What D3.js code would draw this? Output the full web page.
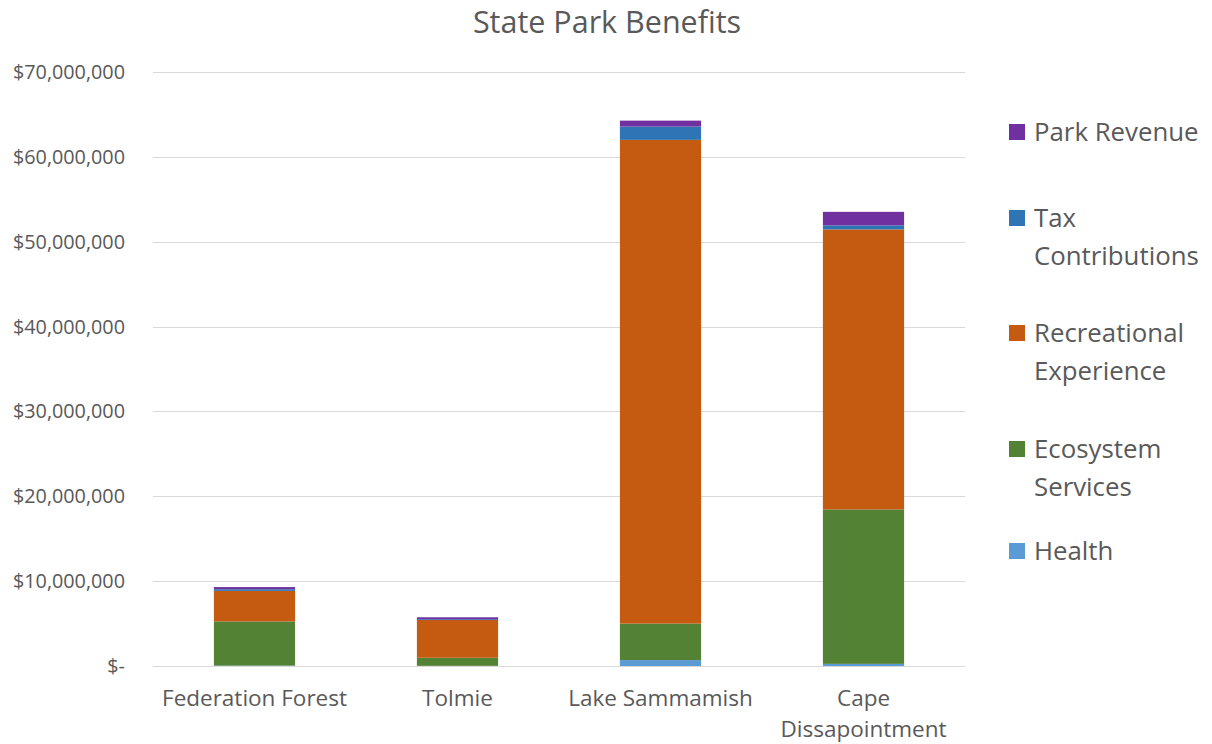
<!DOCTYPE html>
<html lang="en">
    <head>
        <meta charset="utf-8">
        <title>State Park Benefits</title>
        <script src="https://cdn.jsdelivr.net/npm/d3@7"></script>
        <style>
            body { margin: 0; background: #fff; }
            text { font-family: "Open Sans", "Noto Sans", sans-serif; fill: #595959; }
        </style>
    </head>
    <body>
        <script>
            var w = 1212;
            var h = 744;
            var margin = {top: 72, right: 247, bottom: 78, left: 153};

            // data (dollars, millions)
            var parks = ["Federation Forest", "Tolmie", "Lake Sammamish", "Cape Dissapointment"];
            var series = ["Health", "Ecosystem Services", "Recreational Experience", "Tax Contributions", "Park Revenue"];
            var health       = [0.05, 0.02, 0.7, 0.25];
            var ecosystem    = [5.2, 0.95, 4.3, 18.2];
            var recreational = [3.6, 4.45, 57.0, 33.0];
            var tax          = [0.2, 0.1, 1.57, 0.47];
            var revenue      = [0.25, 0.22, 0.7, 1.6];
            var yTicks = [0, 10, 20, 30, 40, 50, 60, 70];
            var colors = ["#5B9BD5", "#548235", "#C55A11", "#2E75B6", "#7030A0"];
            var legendLines = [["Park Revenue"], ["Tax", "Contributions"], ["Recreational", "Experience"], ["Ecosystem", "Services"], ["Health"]];

            var table = parks.map(function(p, i) {
                return {park: p, "Health": health[i], "Ecosystem Services": ecosystem[i],
                        "Recreational Experience": recreational[i], "Tax Contributions": tax[i],
                        "Park Revenue": revenue[i]};
            });
            var stacked = d3.stack().keys(series)(table);

            var xScale = d3.scaleBand()
                           .domain(parks)
                           .range([margin.left, w - margin.right])
                           .paddingInner(0.6)
                           .paddingOuter(0.3);

            var yScale = d3.scaleLinear()
                           .domain([0, 70])
                           .range([h - margin.bottom, margin.top]);

            var color = d3.scaleOrdinal().domain(series).range(colors);

            var svg = d3.select("body")
                        .append("svg")
                        .attr("width", w)
                        .attr("height", h);

            // gridlines
            svg.append("g")
               .selectAll("line")
               .data(yTicks)
               .enter()
               .append("line")
               .attr("x1", margin.left)
               .attr("x2", w - margin.right)
               .attr("y1", function(d) { return Math.round(yScale(d)) + 0.5; })
               .attr("y2", function(d) { return Math.round(yScale(d)) + 0.5; })
               .attr("stroke", "#d9d9d9")
               .attr("stroke-width", 1);

            // y labels
            svg.append("g")
               .selectAll("text")
               .data(yTicks)
               .enter()
               .append("text")
               .attr("x", 125)
               .attr("y", function(d) { return yScale(d); })
               .attr("dy", "0.35em")
               .attr("text-anchor", "end")
               .attr("font-size", "19.8px")
               .text(function(d) { return d === 0 ? "$-" : "$" + d3.format(",")(d * 1000000); });

            // bars
            svg.append("g")
               .selectAll("g")
               .data(stacked)
               .enter()
               .append("g")
               .attr("fill", function(d) { return color(d.key); })
               .selectAll("rect")
               .data(function(d) { return d; })
               .enter()
               .append("rect")
               .attr("x", function(d) { return xScale(d.data.park); })
               .attr("y", function(d) { return yScale(d[1]); })
               .attr("width", xScale.bandwidth())
               .attr("height", function(d) { return yScale(d[0]) - yScale(d[1]); });

            // category labels
            var catLines = {"Cape Dissapointment": ["Cape", "Dissapointment"]};
            svg.append("g")
               .selectAll("text")
               .data(parks)
               .enter()
               .append("text")
               .attr("x", function(d) { return xScale(d) + xScale.bandwidth() / 2; })
               .attr("y", h - margin.bottom + 40)
               .attr("text-anchor", "middle")
               .attr("font-size", "22.5px")
               .each(function(d) {
                   var lines = catLines[d] || [d];
                   var t = d3.select(this);
                   lines.forEach(function(l, i) {
                       t.append("tspan")
                        .attr("x", xScale(d) + xScale.bandwidth() / 2)
                        .attr("dy", i === 0 ? 0 : 31)
                        .text(l);
                   });
               });

            // title
            svg.append("text")
               .attr("x", 607)
               .attr("y", 33)
               .attr("text-anchor", "middle")
               .attr("font-size", "30.5px")
               .text("State Park Benefits");

            // legend
            var legendY = [132, 218, 333, 449, 551];
            var legendColors = ["#7030A0", "#2E75B6", "#C55A11", "#548235", "#5B9BD5"];
            var legend = svg.append("g");
            legendLines.forEach(function(lines, i) {
                legend.append("rect")
                      .attr("x", 1009)
                      .attr("y", legendY[i] - 8)
                      .attr("width", 16)
                      .attr("height", 16)
                      .attr("fill", legendColors[i]);
                var t = legend.append("text")
                              .attr("x", 1034)
                              .attr("y", legendY[i])
                              .attr("font-size", "25.8px");
                lines.forEach(function(l, j) {
                    t.append("tspan")
                     .attr("x", 1034)
                     .attr("dy", j === 0 ? "0.35em" : 38)
                     .text(l);
                });
            });
        </script>
    </body>
</html>
